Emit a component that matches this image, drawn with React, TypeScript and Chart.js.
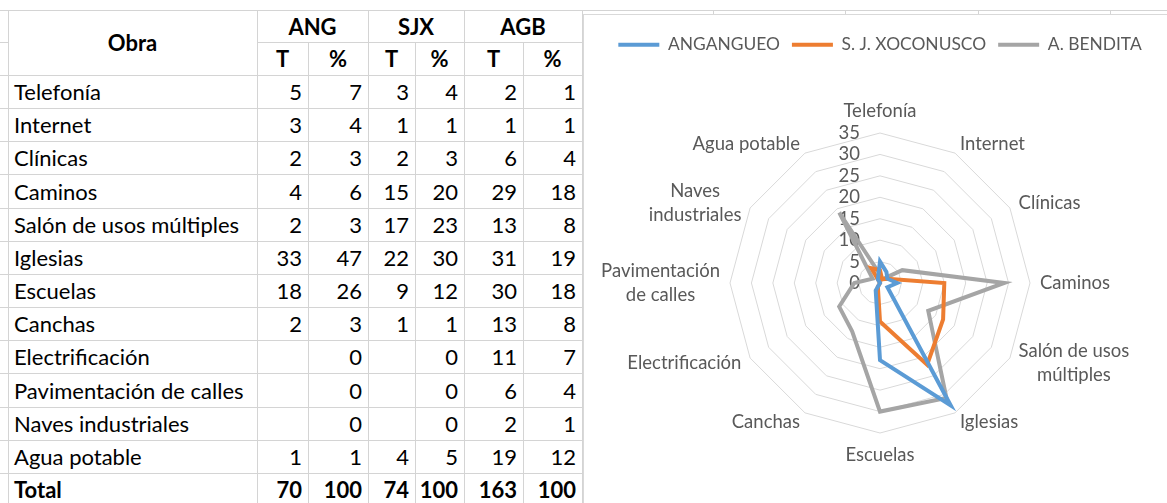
import React, { useEffect, useRef } from "react";
import { Chart, registerables } from "chart.js";

Chart.register(...registerables);

// ---------- Data ----------
const obras = [
  "Telefonía",
  "Internet",
  "Clínicas",
  "Caminos",
  "Salón de usos múltiples",
  "Iglesias",
  "Escuelas",
  "Canchas",
  "Electrificación",
  "Pavimentación de calles",
  "Naves industriales",
  "Agua potable",
];
const groups = ["ANG", "SJX", "AGB"];
const angT: (number | null)[] = [5, 3, 2, 4, 2, 33, 18, 2, null, null, null, 1];
const angP = [7, 4, 3, 6, 3, 47, 26, 3, 0, 0, 0, 1];
const sjxT: (number | null)[] = [3, 1, 2, 15, 17, 22, 9, 1, null, null, null, 4];
const sjxP = [4, 1, 3, 20, 23, 30, 12, 1, 0, 0, 0, 5];
const agbT: (number | null)[] = [2, 1, 6, 29, 13, 31, 30, 13, 11, 6, 2, 19];
const agbP = [1, 1, 4, 18, 8, 19, 18, 8, 7, 4, 1, 12];
const totalT = [70, 74, 163];
const totalP = [100, 100, 100];

const radarLabels = [
  ["Telefonía"],
  ["Internet"],
  ["Clínicas"],
  ["Caminos"],
  ["Salón de usos", "múltiples"],
  ["Iglesias"],
  ["Escuelas"],
  ["Canchas"],
  ["Electrificación"],
  ["Pavimentación", "de calles"],
  ["Naves", "industriales"],
  ["Agua potable"],
];
const seriesNames = ["ANGANGUEO", "S. J. XOCONUSCO", "A. BENDITA"];
const seriesColors = ["#5B9BD5", "#ED7D31", "#A5A5A5"];
const radarTicks = [0, 5, 10, 15, 20, 25, 30, 35];

// ---------- Layout constants ----------
const FONT = 'Lato, "Open Sans", sans-serif';
const LINE = "#d4d4d4";
const colX = [8, 257, 308, 368, 415, 464, 523, 582];
const headerY = [10, 42, 75];
const ROW_H = 33.15;
const rowTop = (k: number) => Math.round(75 + ROW_H * k);

const zeroIfBlank = (a: (number | null)[]) => a.map((v) => (v == null ? 0 : v));

const legendSpacer = {
  id: "legendSpacer",
  beforeInit(chart: any) {
    const legend = chart.legend;
    if (!legend) return;
    const orig = legend.fit;
    legend.fit = function () {
      orig.call(this);
      this.height = 109;
    };
  },
};

const excelLabels = {
  id: "excelLabels",
  beforeDatasetsDraw(chart: any) {
    const s = chart.scales.r;
    const ctx = chart.ctx;
    ctx.save();
    ctx.fillStyle = "#595959";
    ctx.font = `18.5px ${FONT}`;
    ctx.textAlign = "right";
    ctx.textBaseline = "middle";
    radarTicks.forEach((v) => {
      ctx.fillText(String(v), s.xCenter - 20, s.yCenter - s.getDistanceFromCenterForValue(v));
    });
    const lh = 24;
    const gap = 10;
    ctx.textAlign = "center";
    radarLabels.forEach((lines, i) => {
      const p = s.getPointPosition(i, s.drawingArea + gap);
      const a = s.getIndexAngle(i);
      const sn = Math.sin(a);
      const cs = Math.cos(a);
      const h = lines.length * lh;
      const w = Math.max(...lines.map((l) => ctx.measureText(l).width));
      let cy = p.y;
      if (Math.abs(sn) < 0.01) cy = p.y - cs * (h / 2);
      let cx = p.x;
      if (sn > 0.01) cx = p.x + w / 2;
      else if (sn < -0.01) cx = p.x - w / 2;
      lines.forEach((l, k) => ctx.fillText(l, cx, cy - h / 2 + lh * (k + 0.5)));
    });
    ctx.restore();
  },
};

function RadarChart() {
  const ref = useRef<HTMLCanvasElement>(null);
  useEffect(() => {
    if (!ref.current) return;
    const series = [zeroIfBlank(angT), zeroIfBlank(sjxT), zeroIfBlank(agbT)];
    const chart = new Chart(ref.current, {
      type: "radar",
      data: {
        labels: obras,
        datasets: series.map((d, i) => ({
          label: seriesNames[i],
          data: d,
          borderColor: seriesColors[i],
          backgroundColor: seriesColors[i],
          borderWidth: 4,
          borderCapStyle: "round",
          borderJoinStyle: "miter",
          fill: false,
          pointRadius: 0,
          pointHoverRadius: 0,
        })),
      },
      options: {
        animation: false,
        responsive: false,
        maintainAspectRatio: false,
        layout: { padding: { top: 10, bottom: 70, left: 0, right: 0 } },
        plugins: {
          legend: {
            position: "top",
            labels: {
              usePointStyle: true,
              pointStyle: "line",
              pointStyleWidth: 41,
              color: "#595959",
              font: { family: FONT, size: 17.4 },
              padding: 12,
            },
          },
          tooltip: { enabled: false },
        },
        scales: {
          r: {
            min: 0,
            max: 35,
            ticks: { stepSize: 5, display: false },
            grid: { color: "#d9d9d9", lineWidth: 1 },
            angleLines: { display: false },
            pointLabels: { display: false },
          },
        },
      } as any,
      plugins: [legendSpacer, excelLabels] as any,
    });
    return () => chart.destroy();
  }, []);
  return (
    <canvas
      ref={ref}
      width={594}
      height={489}
      style={{ position: "absolute", left: 583, top: 14, width: 594, height: 489 }}
    />
  );
}

function Cell(props: {
  x0: number; x1: number; y0: number; y1: number;
  text: string; align: "left" | "right" | "center"; bold?: boolean;
}) {
  const { x0, x1, y0, y1, text, align, bold } = props;
  return (
    <div
      style={{
        position: "absolute",
        left: x0,
        top: y0,
        width: x1 - x0,
        height: y1 - y0,
        display: "flex",
        alignItems: "center",
        justifyContent: align === "left" ? "flex-start" : align === "right" ? "flex-end" : "center",
        padding: "0 6px",
        boxSizing: "border-box",
        fontFamily: FONT,
        fontSize: 22,
        fontWeight: bold ? 700 : 400,
        color: "#000",
        whiteSpace: "nowrap",
      }}
    >
      {text}
    </div>
  );
}

function HLine({ x0, x1, y }: { x0: number; x1: number; y: number }) {
  return <div style={{ position: "absolute", left: x0, top: y, width: x1 - x0 + 1, height: 1, background: LINE }} />;
}
function VLine({ x, y0, y1 }: { x: number; y0: number; y1: number }) {
  return <div style={{ position: "absolute", left: x, top: y0, width: 1, height: y1 - y0, background: LINE }} />;
}

export default function App() {
  const cols = [angT, angP, sjxT, sjxP, agbT, agbP];
  const lines: React.ReactNode[] = [];
  lines.push(<HLine key="top" x0={0} x1={1167} y={10} />);
  lines.push(<HLine key="h1a" x0={0} x1={8} y={42} />);
  lines.push(<HLine key="h1b" x0={257} x1={582} y={42} />);
  for (let k = 0; k <= 13; k++) {
    lines.push(<HLine key={"r" + k} x0={0} x1={582} y={rowTop(k)} />);
  }
  [8, 257, 368, 464, 582].forEach((x) => lines.push(<VLine key={"v" + x} x={x} y0={10} y1={503} />));
  [308, 415, 523].forEach((x) => lines.push(<VLine key={"w" + x} x={x} y0={42} y1={503} />));
  [713, 845, 978, 1110].forEach((x) => lines.push(<VLine key={"s" + x} x={x} y0={10} y1={14} />));

  const cells: React.ReactNode[] = [];
  cells.push(<Cell key="obra" x0={colX[0]} x1={colX[1]} y0={headerY[0]} y1={headerY[2]} text="Obra" align="center" bold />);
  groups.forEach((g, i) => {
    cells.push(
      <Cell key={"g" + i} x0={colX[1 + i * 2]} x1={colX[3 + i * 2]} y0={headerY[0]} y1={headerY[1]} text={g} align="center" bold />
    );
    cells.push(
      <Cell key={"t" + i} x0={colX[1 + i * 2]} x1={colX[2 + i * 2]} y0={headerY[1]} y1={headerY[2]} text="T" align="center" bold />
    );
    cells.push(
      <Cell key={"p" + i} x0={colX[2 + i * 2]} x1={colX[3 + i * 2]} y0={headerY[1]} y1={headerY[2]} text="%" align="center" bold />
    );
  });
  obras.forEach((o, r) => {
    const y0 = rowTop(r);
    const y1 = rowTop(r + 1);
    cells.push(<Cell key={"o" + r} x0={colX[0]} x1={colX[1]} y0={y0} y1={y1} text={o} align="left" />);
    cols.forEach((c, j) => {
      const v = c[r];
      cells.push(
        <Cell key={"c" + r + "_" + j} x0={colX[1 + j]} x1={colX[2 + j]} y0={y0} y1={y1} text={v == null ? "" : String(v)} align="right" />
      );
    });
  });
  {
    const r = obras.length;
    const y0 = rowTop(r);
    const y1 = rowTop(r + 1);
    cells.push(<Cell key="tot" x0={colX[0]} x1={colX[1]} y0={y0} y1={y1} text="Total" align="left" bold />);
    totalT.forEach((t, i) => {
      cells.push(<Cell key={"tt" + i} x0={colX[1 + i * 2]} x1={colX[2 + i * 2]} y0={y0} y1={y1} text={String(t)} align="right" bold />);
      cells.push(<Cell key={"tp" + i} x0={colX[2 + i * 2]} x1={colX[3 + i * 2]} y0={y0} y1={y1} text={String(totalP[i])} align="right" bold />);
    });
  }

  return (
    <div style={{ position: "fixed", left: 0, top: 0, width: 1167, height: 503, overflow: "hidden", background: "#fff" }}>
      {lines}
      {cells}
      <div
        style={{
          position: "absolute",
          left: 583,
          top: 14,
          width: 640,
          height: 520,
          border: "1px solid #d9d9d9",
          background: "#fff",
          boxSizing: "border-box",
        }}
      />
      <RadarChart />
    </div>
  );
}
